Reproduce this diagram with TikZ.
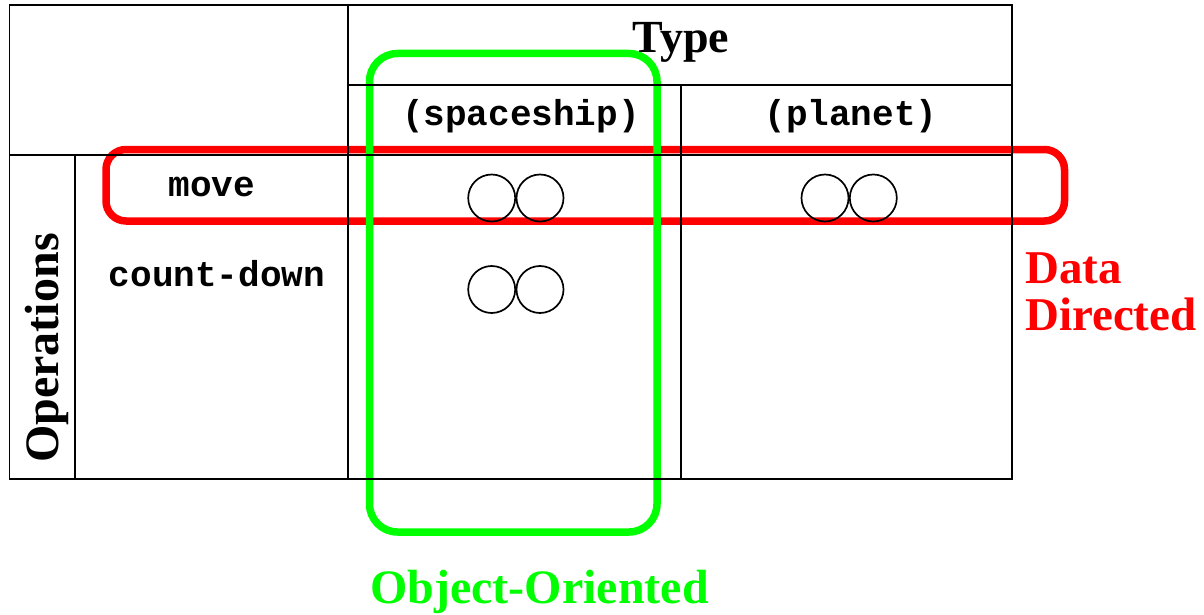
\documentclass[tikz,border=0pt]{standalone}
\usepackage{fontspec}
\setmainfont{Liberation Serif}
\newfontfamily\codefont{Liberation Mono}
\definecolor{ddred}{RGB}{255,0,0}
\definecolor{oogreen}{RGB}{0,255,0}
\tikzset{
  grid/.style={line width=1.5pt, black},
  hdr/.style={font=\bfseries\fontsize{46}{46}\selectfont, inner sep=0pt},
  code/.style={font=\codefont\bfseries\fontsize{36}{36}\selectfont, inner sep=0pt, anchor=base},
  impl/.style={circle, draw, line width=1.7pt, minimum size=47pt, inner sep=0pt},
  band/.style={line width=7.5pt},
}
\begin{document}
\begin{tikzpicture}[x=1pt,y=-1pt]
\useasboundingbox (0,0) rectangle (1204,615);

% groupings: a row (red) and a column (green)
\draw[band, ddred, rounded corners=20pt] (106,149.5) rectangle (1064.5,221);
\draw[band, oogreen, rounded corners=28pt] (369.5,53.5) rectangle (657,532);

% table grid
\draw[grid] (9.5,5) rectangle (1012,479);
\draw[grid] (348,5) -- (348,479);
\draw[grid] (9.5,155) -- (1012,155);
\draw[grid] (348,85) -- (1012,85);
\draw[grid] (681,85) -- (681,479);
\draw[grid] (75,155) -- (75,479);

% headings
\node[hdr, anchor=base] (type) at (681,53) {Type};
\node[hdr, font=\bfseries\fontsize{48}{48}\selectfont, anchor=base, rotate=90] (ops) at (58,348) {Operations};

\node[code] (ship) at (521,125) {(spaceship)};
\node[code] (planet) at (851,126) {(planet)};
\node[code] (move) at (212,196) {move};
\node[code] (count) at (217,286) {count-down};

% implementations
\node[impl] (sm1) at (491.7,198) {};
\node[impl] (sm2) at (540,198) {};
\node[impl] (sc1) at (491.7,289.5) {};
\node[impl] (sc2) at (540,289.5) {};
\node[impl] (pm1) at (825,198) {};
\node[impl] (pm2) at (873.3,198) {};

% labels of the groupings
\node[hdr, font=\bfseries\fontsize{47}{47}\selectfont, text=ddred, anchor=base west] (dd1) at (1025,283) {Data};
\node[hdr, font=\bfseries\fontsize{47}{47}\selectfont, text=ddred, anchor=base west] (dd2) at (1025,330) {Directed};
\node[hdr, font=\bfseries\fontsize{48}{48}\selectfont, text=oogreen, anchor=base] (oo) at (539.5,603) {Object-Oriented};
\end{tikzpicture}
\end{document}
